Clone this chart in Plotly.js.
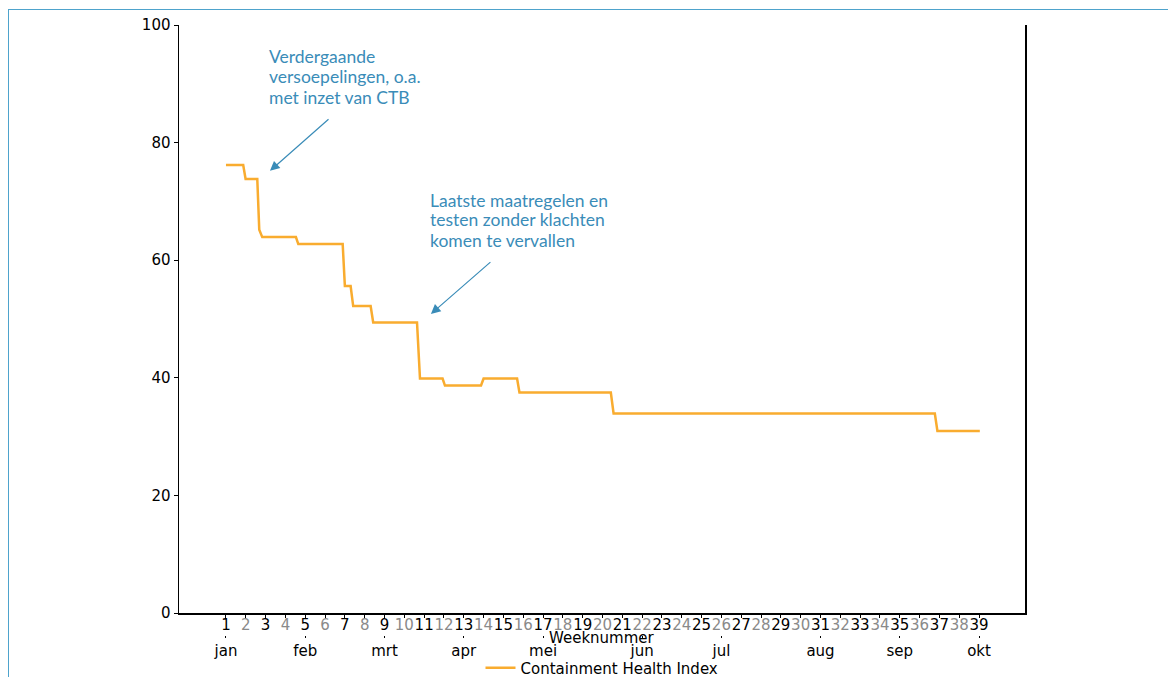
<!DOCTYPE html>
<html>
<head>
<meta charset="utf-8">
<script src="https://cdn.plot.ly/plotly-3.0.1.min.js"></script>
<style>
  html, body { margin: 0; padding: 0; background: #ffffff; }
  #wrap { position: relative; width: 1168px; height: 677px; overflow: hidden; }
  #chart { position: absolute; left: 0; top: 0; width: 1168px; height: 677px; }
  #frame { position: absolute; left: 8px; top: 9px; width: 1200px; height: 700px;
           border-left: 1.5px solid #4ea3cc; border-top: 1.5px solid #4ea3cc; pointer-events: none; }
</style>
</head>
<body>
<div id="wrap">
  <div id="chart"></div>
  <div id="frame"></div>
</div>
<script>
// Containment Health Index (step changes, x in week numbers)
const weekPos = [1.00, 1.87, 1.99, 2.58, 2.68, 2.83, 4.53, 4.65, 6.89, 7.00, 7.29, 7.42, 8.30, 8.43,
                 10.64, 10.79, 11.93, 12.05, 13.87, 14.00, 15.69, 15.81, 20.42, 20.56, 36.77, 36.90, 39.04];
const healthIndex = [76.19, 76.19, 73.81, 73.81, 65.2, 63.93, 63.93, 62.74, 62.74, 55.6, 55.6, 52.2, 52.2, 49.4,
                     49.4, 39.88, 39.88, 38.69, 38.69, 39.88, 39.88, 37.5, 37.5, 33.93, 33.93, 30.95, 30.95];
const seriesName = "Containment Health Index";
const xTitle = "Weeknummer";

// week tick labels
const weeks = [];
for (let w = 1; w <= 39; w++) weeks.push(w);
const weekLabels = weeks.map(w => w % 2 === 1 ? String(w) : '<span style="color:#8a8a8a">' + w + '</span>');

// month labels (positioned at week numbers)
const monthWeeks = [1, 5, 9, 13, 17, 22, 26, 31, 35, 39];
const monthLabels = ["jan", "feb", "mrt", "apr", "mei", "jun", "jul", "aug", "sep", "okt"];

// annotations (one entry per text line)
const note1Lines = ["Verdergaande", "versoepelingen, o.a.", "met inzet van CTB"];
const note1X = 3.07;
const note1Y = [94.56, 91.16, 87.59];
const note2Lines = ["Laatste maatregelen en", "testen zonder klachten", "komen te vervallen"];
const note2X = 11.19;
const note2Y = [70.24, 66.84, 63.27];
const arrowHeadX = [3.22, 11.34];
const arrowHeadY = [75.2, 50.85];
const arrowTailX = [6.25, 14.42];
const arrowTailY = [84.2, 59.9];

const noteColor = "#3a8cb8";
const annotations = [];
function addLines(lines, x, ys) {
  lines.forEach((t, i) => annotations.push({
    x: x, y: ys[i], xref: 'x', yref: 'y', text: t,
    showarrow: false, xanchor: 'left', yanchor: 'middle', align: 'left',
    font: { family: 'Lato, sans-serif', size: 17.5, color: noteColor }
  }));
}
addLines(note1Lines, note1X, note1Y);
addLines(note2Lines, note2X, note2Y);
for (let i = 0; i < arrowHeadX.length; i++) {
  annotations.push({
    x: arrowHeadX[i], y: arrowHeadY[i], xref: 'x', yref: 'y',
    ax: arrowTailX[i], ay: arrowTailY[i], axref: 'x', ayref: 'y',
    text: '', showarrow: true, arrowhead: 2, arrowsize: 1.6, arrowwidth: 1.2, arrowcolor: noteColor
  });
}
// x-axis title
annotations.push({
  x: 0.5, y: -0.005, xref: 'paper', yref: 'paper', text: xTitle, showarrow: false,
  xanchor: 'center', yanchor: 'middle', font: { size: 15, color: '#000' }
});

const trace = {
  x: weekPos, y: healthIndex, type: 'scatter', mode: 'lines', name: seriesName,
  line: { color: '#f9ac2f', width: 2.5 }
};
// invisible trace for the month axis
const monthTrace = {
  x: monthWeeks, y: monthWeeks.map(() => null), xaxis: 'x2', yaxis: 'y',
  type: 'scatter', mode: 'lines', showlegend: false, hoverinfo: 'skip'
};

const xRange = [-1.37, 41.32];
const layout = {
  width: 1168, height: 677,
  margin: { l: 179, r: 143, t: 25, b: 42, autoexpand: false },
  paper_bgcolor: '#ffffff', plot_bgcolor: '#ffffff',
  font: { family: 'DejaVu Sans, sans-serif', size: 15, color: '#000' },
  showlegend: true,
  legend: { orientation: 'h', x: 0.5, xanchor: 'center', y: -0.054, yanchor: 'middle',
            font: { size: 15, color: '#000' }, bgcolor: 'rgba(0,0,0,0)' },
  xaxis: {
    range: xRange, tickmode: 'array', tickvals: weeks, ticktext: weekLabels,
    ticks: 'outside', ticklen: 3, tickcolor: '#000', tickangle: 0, ticklabelstandoff: -6,
    showline: true, linecolor: '#000', linewidth: 1.5, showgrid: false, zeroline: false,
    tickfont: { size: 15, color: '#000' }, automargin: false,
    anchor: 'y'
  },
  xaxis2: {
    range: xRange, overlaying: 'x', anchor: 'free', position: 0, side: 'bottom',
    tickmode: 'array', tickvals: monthWeeks, ticktext: monthLabels,
    ticks: 'outside', ticklen: 2, tickwidth: 1, tickcolor: '#000', automargin: false,
    showline: false, showgrid: false, zeroline: false,
    tickfont: { size: 15, color: '#000' }
  },
  yaxis: {
    range: [0, 100], domain: [0.036, 1], tickvals: [0, 20, 40, 60, 80, 100],
    ticks: 'outside', ticklen: 4, tickcolor: '#000', automargin: false,
    showline: true, mirror: true, linecolor: '#000', linewidth: 1.5,
    showgrid: false, zeroline: false, tickfont: { size: 15, color: '#000' }
  },
  annotations: annotations
};

Plotly.newPlot('chart', [trace, monthTrace], layout, { displayModeBar: false, staticPlot: true });
</script>
</body>
</html>
